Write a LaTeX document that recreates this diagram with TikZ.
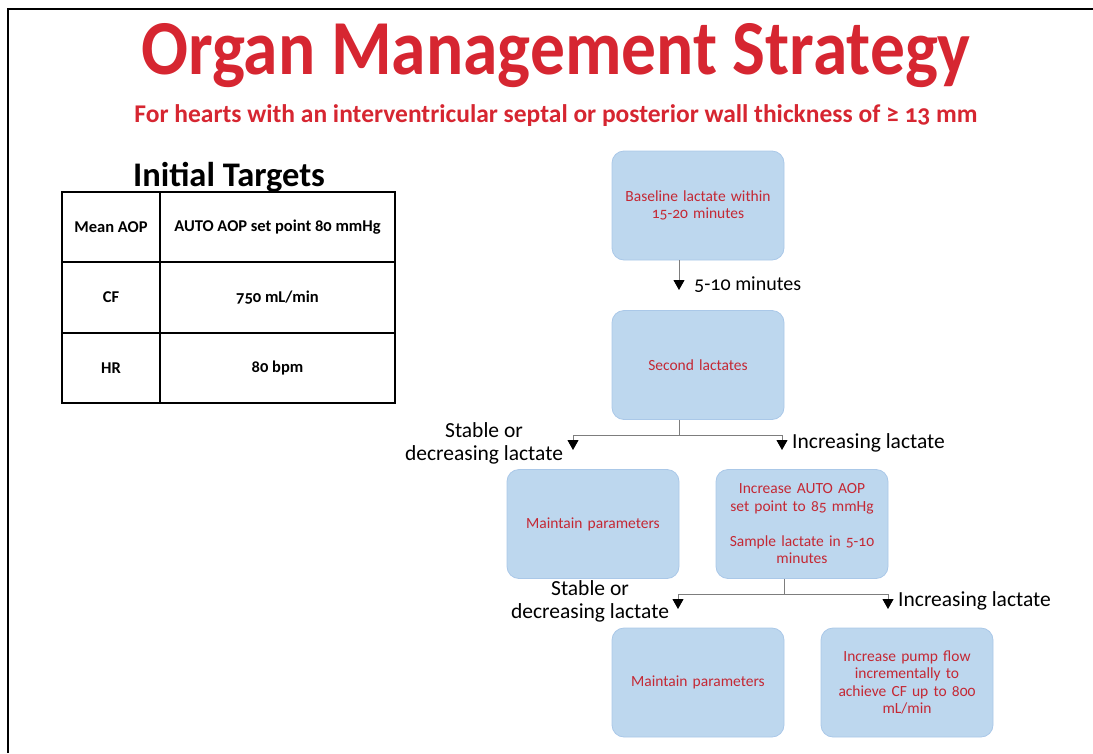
\documentclass[tikz,border=0pt]{standalone}
\usepackage{fontspec}
\setmainfont{Carlito}[Numbers=OldStyle]
\usetikzlibrary{arrows.meta}
\definecolor{titlered}{RGB}{214,38,49}
\definecolor{boxred}{RGB}{196,40,52}
\definecolor{boxfill}{RGB}{189,215,238}
\definecolor{boxline}{RGB}{170,200,232}
\definecolor{connc}{RGB}{125,125,125}
\tikzset{
  flow/.style={draw=boxline, line width=0.8pt, fill=boxfill, rounded corners=12pt,
    minimum width=172pt, minimum height=109pt, text width=168pt, align=center,
    text=boxred, font=\fontsize{15.5}{17.5}\selectfont, inner sep=0pt},
  connline/.style={draw=connc, line width=1pt},
  tipped/.style={-{Triangle[width=11pt,length=10pt,color=black]}},
  lbl/.style={font=\fontsize{21.5}{23}\selectfont, text=black, inner sep=0pt},
  cell/.style={draw=black, line width=1.5pt, inner sep=0pt, outer sep=0pt,
    font=\fontsize{16.5}{18}\selectfont\bfseries, align=center},
}
\begin{document}
\begin{tikzpicture}[x=1pt,y=-1pt]
\useasboundingbox (0,0) rectangle (1093,753);
% frame
\draw[line width=2.2pt] (8,753) -- (8,9) -- (1093,9);
% titles
\node[anchor=base, font=\fontsize{69.5}{80}\selectfont\bfseries, text=titlered, inner sep=0pt] (title) at (556,74) {\scalebox{1}[1.12]{Organ Management Strategy}};
\node[anchor=base, font=\fontsize{25.5}{28}\selectfont\bfseries, text=titlered, inner sep=0pt] (sub) at (556,122) {For hearts with an interventricular septal or posterior wall thickness of ≥ 13 mm};
\node[anchor=base, font=\fontsize{34.5}{38}\selectfont\bfseries, inner sep=0pt] (it) at (229,186) {Initial Targets};
% table
\node[cell, minimum width=98pt, minimum height=70pt] (t11) at (111,227) {Mean AOP};
\node[cell, minimum width=235pt, minimum height=70pt] (t12) at (277.5,227) {AUTO AOP set point 80 mmHg};
\node[cell, minimum width=98pt, minimum height=71pt] (t21) at (111,297.5) {CF};
\node[cell, minimum width=235pt, minimum height=71pt] (t22) at (277.5,297.5) {750 mL/min};
\node[cell, minimum width=98pt, minimum height=70pt] (t31) at (111,368) {HR};
\node[cell, minimum width=235pt, minimum height=70pt] (t32) at (277.5,368) {80 bpm};
% flow boxes
\node[flow] (B1) at (698,205.5) {Baseline lactate within\\15-20 minutes};
\node[flow] (B2) at (698,365) {Second lactates};
\node[flow] (B3) at (593,524) {Maintain parameters};
\node[flow] (B4) at (802,524) {Increase AUTO AOP\\set point to 85 mmHg\\[17.5pt]Sample lactate in 5-10\\minutes};
\node[flow] (B5) at (698,682.5) {Maintain parameters};
\node[flow] (B6) at (907,682.5) {Increase pump flow\\incrementally to\\achieve CF up to 800\\mL/min};
% connectors
\coordinate (a1) at (679,290);
\draw[connline,tipped] (B1.south -| a1) -- (a1);
\node[lbl, font=\fontsize{20}{23}\selectfont, anchor=west] (L0) at (694,285) {5-10 minutes};
\coordinate (j1) at (679,435);
\coordinate (a2) at (573,450);
\coordinate (a3) at (782,450);
\draw[connline] (B2.south -| j1) -- (j1);
\draw[connline,tipped] (j1) -| (a2);
\draw[connline,tipped] (j1) -| (a3);
\node[lbl, align=center] (L1) at (484,443) {Stable or\\decreasing lactate};
\node[lbl, anchor=west] (L2) at (792,443) {Increasing lactate};
\coordinate (j2) at (784,594);
\coordinate (a4) at (678,609);
\coordinate (a5) at (888,609);
\draw[connline] (B4.south -| j2) -- (j2);
\draw[connline,tipped] (j2) -| (a4);
\draw[connline,tipped] (j2) -| (a5);
\node[lbl, align=center] (L3) at (590,601) {Stable or\\decreasing lactate};
\node[lbl, anchor=west] (L4) at (898,601) {Increasing lactate};
\end{tikzpicture}
\end{document}
